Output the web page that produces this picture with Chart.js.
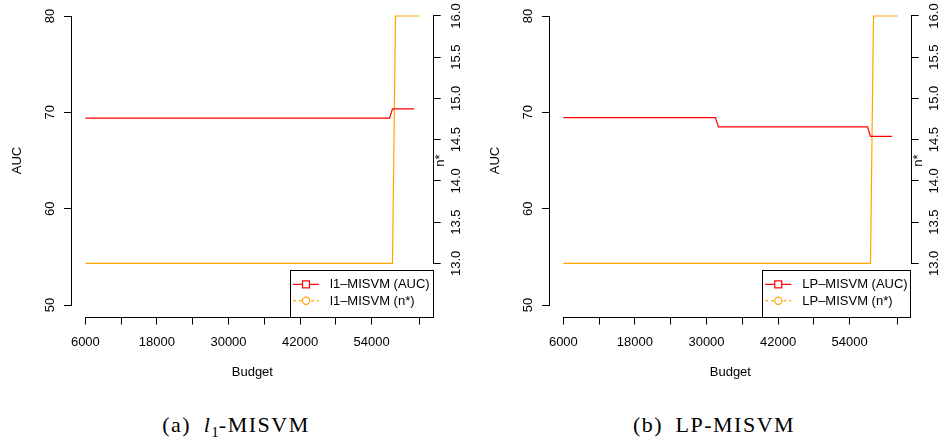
<!DOCTYPE html>
<html>
<head>
<meta charset="utf-8">
<script src="https://cdn.jsdelivr.net/npm/chart.js@4/dist/chart.umd.min.js"></script>
<style>
  html, body { margin:0; padding:0; background:#fff; }
  body { width:943px; height:446px; position:relative; overflow:hidden; }
  .panel { position:absolute; top:0; width:465px; height:390px; }
  .cap { position:absolute; top:412px; line-height:26px; font-family:"Liberation Serif", serif; font-size:22px;
         white-space:nowrap; transform:translateX(-50%); letter-spacing:1.5px; color:#000; }
  .cap .sub { font-size:15px; position:relative; top:5px; letter-spacing:0; }
</style>
</head>
<body>
<div class="panel" style="left:0"><canvas id="chart-l1" width="465" height="390"></canvas></div>
<div class="panel" style="left:478px"><canvas id="chart-lp" width="465" height="390"></canvas></div>
<div class="cap" style="left:236px">(a)&ensp;<i>l</i><span class="sub">1</span>-MISVM</div>
<div class="cap" style="left:714px">(b)&ensp;LP-MISVM</div>

<script>
// ── axis ticks ──
var budgetTicks  = [6000, 12000, 18000, 24000, 30000, 36000, 42000, 48000, 54000, 62000];
var budgetLabels = [6000, 18000, 30000, 42000, 54000];
var aucTicks = [50, 60, 70, 80];
var nTicks   = [13.0, 13.5, 14.0, 14.5, 15.0, 15.5, 16.0];

// ── l1-MISVM (breakpoints of the step lines) ──
var l1Budget  = [6000, 57000, 57500, 61100];
var l1Auc     = [69.4, 69.4, 70.35, 70.35];
var l1NBudget = [6000, 57500, 58000, 62000];
var l1N       = [13, 13, 16, 16];

// ── LP-MISVM ──
var lpBudget  = [6000, 31500, 32000, 57000, 57500, 61100];
var lpAuc     = [69.45, 69.45, 68.5, 68.5, 67.5, 67.5];
var lpNBudget = [6000, 57500, 58000, 62000];
var lpN       = [13, 13, 16, 16];

var FONT = '"Liberation Sans", Arial, sans-serif';
var RED = '#FF0000', ORANGE = '#FFA500';

function pts(xs, ys) { return xs.map(function(x, i){ return { x: x, y: ys[i] }; }); }
function al(v) { return Math.round(v) + 0.5; }

// R-style axes: lines spanning first..last tick, rotated y labels, titles, boxed legend
var rStyle = {
  id: 'rStyle',
  afterDraw: function(chart, args, opts) {
    var ctx = chart.ctx, ca = chart.chartArea;
    var sx = chart.scales.x, sy = chart.scales.y, sy2 = chart.scales.y2;
    ctx.save();
    ctx.strokeStyle = '#000'; ctx.lineWidth = 1; ctx.fillStyle = '#000';
    // axis lines
    ctx.beginPath();
    var yb = al(ca.bottom);
    ctx.moveTo(sx.getPixelForValue(budgetTicks[0]), yb);
    ctx.lineTo(sx.getPixelForValue(budgetTicks[budgetTicks.length-1]), yb);
    var xl = al(ca.left - 1);
    ctx.moveTo(xl, sy.getPixelForValue(aucTicks[0]));
    ctx.lineTo(xl, sy.getPixelForValue(aucTicks[aucTicks.length-1]));
    var xr = al(ca.right);
    ctx.moveTo(xr, sy2.getPixelForValue(nTicks[0]));
    ctx.lineTo(xr, sy2.getPixelForValue(nTicks[nTicks.length-1]));
    ctx.stroke();

    // rotated y tick labels
    ctx.font = '13px ' + FONT;
    ctx.textAlign = 'center'; ctx.textBaseline = 'middle';
    function rot(txt, x, y) {
      ctx.save(); ctx.translate(x, y); ctx.rotate(-Math.PI/2); ctx.fillText(txt, 0, 0); ctx.restore();
    }
    aucTicks.forEach(function(v){ rot(String(v), ca.left - 22, sy.getPixelForValue(v)); });
    nTicks.forEach(function(v){ rot(v.toFixed(1), ca.right + 24, sy2.getPixelForValue(v)); });

    // titles
    var midY = (ca.top + ca.bottom) / 2;
    rot('AUC', 17.3, midY);
    rot('n*', ca.right + 8, midY);
    ctx.fillText('Budget', (ca.left + ca.right) / 2, 372.7);

    // legend box, bottom right of the plot region
    var ds = chart.data.datasets;
    var tw = Math.max.apply(null, ds.map(function(d){ return ctx.measureText(d.label).width; }));
    var bR = ca.right, bL = bR - tw - 43, bB = ca.bottom, bT = bB - 47;
    ctx.strokeRect(al(bL), al(bT), Math.round(bR - bL), Math.round(bB - bT));
    ctx.textAlign = 'left';
    var rows = [bB - 32.2, bB - 15.8];
    ds.forEach(function(d, i){
      var ry = rows[i];
      ctx.strokeStyle = d.borderColor; ctx.lineWidth = 1.2;
      ctx.setLineDash(i === 1 ? [3, 3] : []);
      ctx.beginPath(); ctx.moveTo(bL + 3, ry); ctx.lineTo(bL + 29, ry); ctx.stroke();
      ctx.setLineDash([]);
      ctx.fillStyle = '#fff';
      if (i === 0) { ctx.fillRect(bL + 12.5, ry - 3.5, 7, 7); ctx.strokeRect(bL + 12.5, ry - 3.5, 7, 7); }
      else { ctx.beginPath(); ctx.arc(bL + 16, ry, 3.6, 0, Math.PI*2); ctx.fill(); ctx.stroke(); }
      ctx.fillStyle = '#000';
      ctx.fillText(d.label, bL + 40, ry + 0.5);
    });
    ctx.restore();
  }
};

function makeChart(id, name, xa, ya, xn, yn) {
  var el = document.getElementById(id);
  return new Chart(el.getContext('2d'), {
    type: 'line',
    data: {
      datasets: [
        { label: name + '\u2013MISVM (AUC)', data: pts(xa, ya), yAxisID: 'y',
          borderColor: RED, borderWidth: 1.2, pointRadius: 0, tension: 0, fill: false },
        { label: name + '\u2013MISVM (n*)', data: pts(xn, yn), yAxisID: 'y2',
          borderColor: ORANGE, borderWidth: 1.2, pointRadius: 0, tension: 0, fill: false }
      ]
    },
    options: {
      responsive: false, animation: false, devicePixelRatio: 1,
      layout: { padding: { top: 4.44, left: 0, right: 0, bottom: 0 } },
      plugins: { legend: { display: false }, tooltip: { enabled: false } },
      scales: {
        x: {
          type: 'linear', min: 3760, max: 64240,
          afterBuildTicks: function(s){ s.ticks = budgetTicks.map(function(v){ return { value: v }; }); },
          afterFit: function(s){ s.height = 390 - 316.56; },
          grid: { drawOnChartArea: false, tickLength: 8, color: '#000', lineWidth: 1 },
          border: { display: false },
          ticks: {
            autoSkip: false, maxRotation: 0, padding: 10, color: '#000', font: { family: FONT, size: 13 },
            callback: function(v){ return budgetLabels.indexOf(v) >= 0 ? String(v) : ''; }
          }
        },
        y: {
          position: 'left', min: 48.8, max: 81.2,
          afterBuildTicks: function(s){ s.ticks = aucTicks.map(function(v){ return { value: v }; }); },
          afterFit: function(s){ s.width = 72; },
          grid: { drawOnChartArea: false, tickLength: 8, color: '#000', lineWidth: 1 },
          border: { display: false },
          ticks: { display: false }
        },
        y2: {
          position: 'right', min: 12.354, max: 16.14,
          afterBuildTicks: function(s){ s.ticks = nTicks.map(function(v){ return { value: v }; }); },
          afterFit: function(s){ s.width = 465 - 432.7; },
          grid: { drawOnChartArea: false, tickLength: 8, color: '#000', lineWidth: 1 },
          border: { display: false },
          ticks: { display: false }
        }
      }
    },
    plugins: [rStyle]
  });
}

makeChart('chart-l1', 'l1', l1Budget, l1Auc, l1NBudget, l1N);
makeChart('chart-lp', 'LP', lpBudget, lpAuc, lpNBudget, lpN);
</script>
</body>
</html>
